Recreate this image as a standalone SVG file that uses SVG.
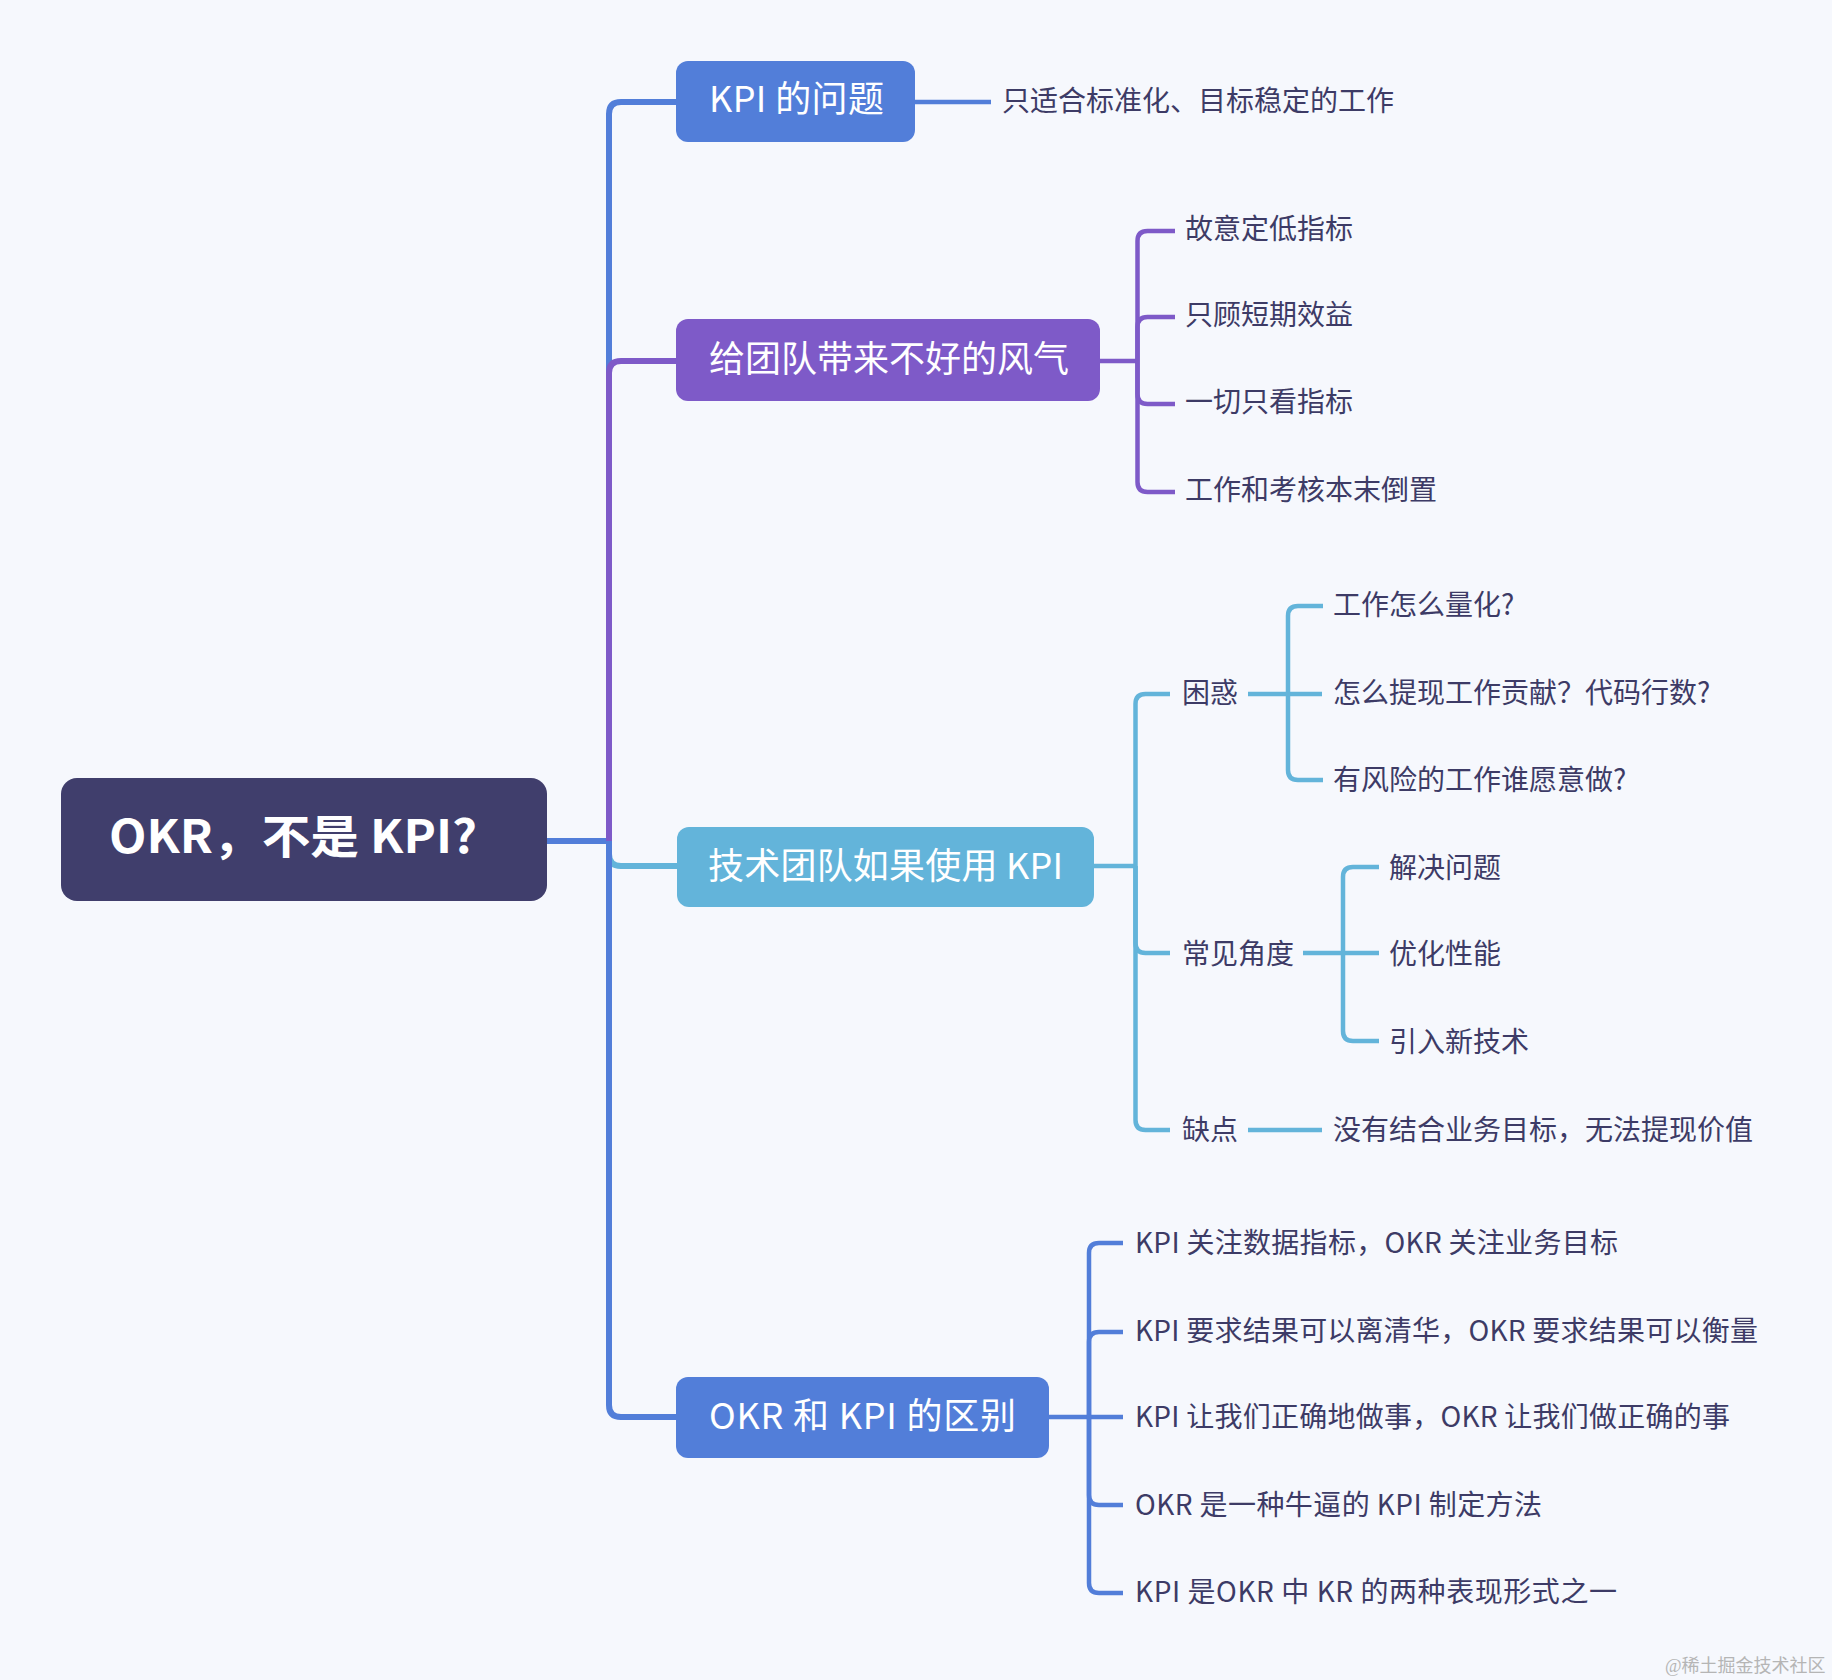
<svg xmlns="http://www.w3.org/2000/svg" width="1832" height="1680" viewBox="0 0 1832 1680">
<style>
.bg{fill:#f6f8fd}
.t{font-family:"Noto Sans CJK SC","Liberation Sans",sans-serif}
.leaf{font-size:28px;fill:#3d3b66}
.main{font-size:36px;fill:#ffffff}
.root{font-size:46px;font-weight:bold;fill:#ffffff}
.c{fill:none;stroke-linecap:butt;stroke-linejoin:round}
.m{stroke-width:6}
.s{stroke-width:4.5}
.blue{stroke:#527ed9}
.purple{stroke:#7e5ac8}
.lb{stroke:#63b4da}
.wm{font-family:"Liberation Serif","Noto Sans CJK SC",serif;font-size:18px;fill:#b5b5b5}
</style>
<rect class="bg" x="0" y="0" width="1832" height="1680"/>

<g id="connectors">
  <path class="c m blue" d="M547,841 H609"/>
  <path class="c m blue" d="M609,841 V114 Q609,102 621,102 H676"/>
  <path class="c m purple" d="M609,841 V373 Q609,361 621,361 H676"/>
  <path class="c m lb" d="M609,841 V854 Q609,866 621,866 H677"/>
  <path class="c m blue" d="M609,841 V1405 Q609,1417 621,1417 H676"/>

  <path class="c s blue" d="M915,102 H991"/>

  <path class="c s purple" d="M1100,361 H1137.5"/>
  <path class="c s purple" d="M1137.5,361 V241 Q1137.5,231 1147.5,231 H1175"/>
  <path class="c s purple" d="M1137.5,361 V327 Q1137.5,317 1147.5,317 H1175"/>
  <path class="c s purple" d="M1137.5,361 V394 Q1137.5,404 1147.5,404 H1175"/>
  <path class="c s purple" d="M1137.5,361 V482 Q1137.5,492 1147.5,492 H1175"/>

  <path class="c s lb" d="M1094,866 H1135.5"/>
  <path class="c s lb" d="M1135.5,866 V704 Q1135.5,694 1145.5,694 H1170"/>
  <path class="c s lb" d="M1135.5,866 V943 Q1135.5,953 1145.5,953 H1170"/>
  <path class="c s lb" d="M1135.5,866 V1120 Q1135.5,1130 1145.5,1130 H1170"/>

  <path class="c s lb" d="M1248,694 H1322"/>
  <path class="c s lb" d="M1288,694 V616 Q1288,606 1298,606 H1323"/>
  <path class="c s lb" d="M1288,694 V770 Q1288,780 1298,780 H1323"/>

  <path class="c s lb" d="M1303,953 H1379"/>
  <path class="c s lb" d="M1343,953 V877 Q1343,867 1353,867 H1379"/>
  <path class="c s lb" d="M1343,953 V1031 Q1343,1041 1353,1041 H1379"/>

  <path class="c s lb" d="M1248,1130 H1322"/>

  <path class="c s blue" d="M1049,1417 H1089"/>
  <path class="c s blue" d="M1089,1417 V1253 Q1089,1243 1099,1243 H1123"/>
  <path class="c s blue" d="M1089,1417 V1342 Q1089,1332 1099,1332 H1123"/>
  <path class="c s blue" d="M1089,1417 H1123"/>
  <path class="c s blue" d="M1089,1417 V1495 Q1089,1505 1099,1505 H1123"/>
  <path class="c s blue" d="M1089,1417 V1583 Q1089,1593 1099,1593 H1123"/>
</g>

<g id="root">
  <rect x="61" y="778" width="486" height="123" rx="16" fill="#403e6c"/>
  <text class="t root" x="109" y="853" textLength="368" lengthAdjust="spacingAndGlyphs">OKR，不是 KPI?</text>
</g>

<g id="kpi-problem">
  <rect x="676" y="61" width="239" height="81" rx="12" fill="#527ed9"/>
  <text class="t main" x="709" y="112" textLength="175" lengthAdjust="spacing">KPI 的问题</text>
</g>
<g id="kpi-problem-1"><text class="t leaf" x="1002" y="111">只适合标准化、目标稳定的工作</text></g>

<g id="bad-culture">
  <rect x="676" y="319" width="424" height="82" rx="12" fill="#7e5ac8"/>
  <text class="t main" x="709" y="372">给团队带来不好的风气</text>
</g>
<g id="bad-1"><text class="t leaf" x="1185" y="239">故意定低指标</text></g>
<g id="bad-2"><text class="t leaf" x="1185" y="325">只顾短期效益</text></g>
<g id="bad-3"><text class="t leaf" x="1185" y="412">一切只看指标</text></g>
<g id="bad-4"><text class="t leaf" x="1185" y="500">工作和考核本末倒置</text></g>

<g id="tech-team">
  <rect x="677" y="827" width="417" height="80" rx="12" fill="#63b4da"/>
  <text class="t main" x="708" y="879" textLength="355" lengthAdjust="spacing">技术团队如果使用 KPI</text>
</g>
<g id="confusion"><text class="t leaf" x="1182" y="703">困惑</text></g>
<g id="confusion-1"><text class="t leaf" x="1333" y="615">工作怎么量化?</text></g>
<g id="confusion-2"><text class="t leaf" x="1333" y="703">怎么提现工作贡献？代码行数?</text></g>
<g id="confusion-3"><text class="t leaf" x="1333" y="790">有风险的工作谁愿意做?</text></g>
<g id="angles"><text class="t leaf" x="1182" y="964">常见角度</text></g>
<g id="angles-1"><text class="t leaf" x="1389" y="878">解决问题</text></g>
<g id="angles-2"><text class="t leaf" x="1389" y="964">优化性能</text></g>
<g id="angles-3"><text class="t leaf" x="1389" y="1052">引入新技术</text></g>
<g id="flaw"><text class="t leaf" x="1182" y="1140">缺点</text></g>
<g id="flaw-1"><text class="t leaf" x="1333" y="1140">没有结合业务目标，无法提现价值</text></g>

<g id="okr-vs-kpi">
  <rect x="676" y="1377" width="373" height="81" rx="12" fill="#527ed9"/>
  <text class="t main" x="709" y="1429" textLength="307" lengthAdjust="spacing">OKR 和 KPI 的区别</text>
</g>
<g id="diff-1"><text class="t leaf" x="1135" y="1253" textLength="483" lengthAdjust="spacing">KPI 关注数据指标，OKR 关注业务目标</text></g>
<g id="diff-2"><text class="t leaf" x="1135" y="1341" textLength="623" lengthAdjust="spacing">KPI 要求结果可以离清华，OKR 要求结果可以衡量</text></g>
<g id="diff-3"><text class="t leaf" x="1135" y="1427" textLength="595" lengthAdjust="spacing">KPI 让我们正确地做事，OKR 让我们做正确的事</text></g>
<g id="diff-4"><text class="t leaf" x="1135" y="1515" textLength="407" lengthAdjust="spacing">OKR 是一种牛逼的 KPI 制定方法</text></g>
<g id="diff-5"><text class="t leaf" x="1135" y="1602" textLength="482" lengthAdjust="spacing">KPI 是OKR 中 KR 的两种表现形式之一</text></g>

<text class="wm" x="1665" y="1672">@稀土掘金技术社区</text>
</svg>
